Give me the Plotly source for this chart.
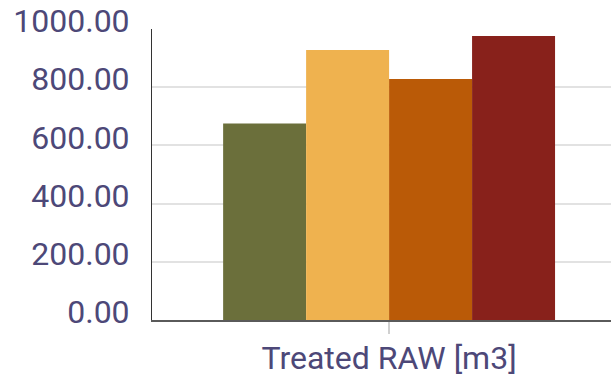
import plotly.graph_objects as go

# Treated RAW volume per series (m3)
category = ["Treated RAW [m3]"]
series_values = [675, 928, 828, 976]
series_colors = ["#6b6f3b", "#efb24f", "#ba5a07", "#88211b"]
y_ticks = [0, 200, 400, 600, 800, 1000]
y_tick_labels = [f"{v:.2f}" for v in y_ticks]

text_color = "#4d4878"
label_font = dict(size=32, color=text_color, family="Roboto", weight=400)

fig = go.Figure()
for val, col in zip(series_values, series_colors):
    fig.add_trace(go.Bar(x=category, y=[val], marker=dict(color=col, line=dict(width=0)),
                         showlegend=False))

fig.update_layout(
    width=611, height=376,
    margin=dict(l=152, r=0, t=29, b=56),
    paper_bgcolor="white", plot_bgcolor="white",
    barmode="group", bargap=0.3, bargroupgap=0,
    font=dict(family="Roboto", color=text_color, size=32),
)
fig.update_xaxes(
    range=[-0.5, 0.468], automargin=False,
    showline=True, linecolor="#5a5a5a", linewidth=2,
    ticks="outside", ticklen=12, tickcolor="#d0d0d0", tickwidth=2,
    ticklabelstandoff=-3,
    tickfont=label_font,
    showgrid=False, zeroline=False,
)
fig.update_yaxes(
    range=[0, 1000], automargin=False,
    tickvals=y_ticks, ticktext=y_tick_labels,
    showline=True, linecolor="#333333", linewidth=1,
    showgrid=True, gridcolor="#e2e2e2", gridwidth=2,
    zeroline=False, ticks="",
    ticklabelstandoff=15, ticklabelshift=-8,
    tickfont=label_font,
)

fig.write_html("out.html")
